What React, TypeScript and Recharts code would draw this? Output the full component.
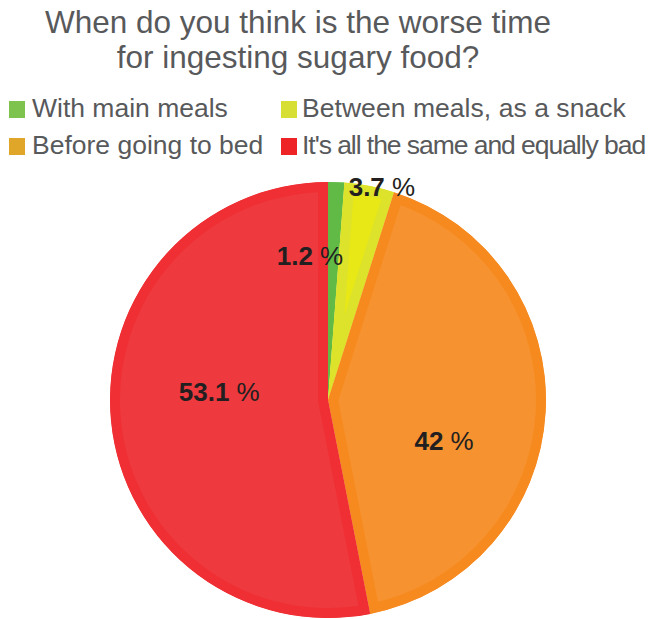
import React from 'react';
import { PieChart, Pie, Cell, Legend, Sector } from 'recharts';

const titleLines = ['When do you think is the worse time', 'for ingesting sugary food?'];
const categories = ['With main meals', 'Between meals, as a snack', 'Before going to bed', "It's all the same and equally bad"];
const values = [1.2, 3.7, 42, 53.1];

const sliceFill = ['#6cbf4a', '#e8e817', '#f6922f', '#ee3a3e'];
const sliceBand = ['#60ba45', '#dde22a', '#f68a1f', '#ef2f33'];
const legendColors = ['#7dc34d', '#d8df34', '#e0a62a', '#ee2326'];
const legendSpacing = [0, 0.05, 0, -1.05];
const labelRadiusFactor = [0.665, 1.01, 0.565, 0.5];
const labelAngleShift = [-9.3, 3.2, 16.3, 9.6];

const data = categories.map((name, i) => ({ name, value: values[i] }));

const FONT = '"Liberation Sans", Arial, sans-serif';
const TEXT = '#58595b';
const RAD = Math.PI / 180;
const LEGEND_HEIGHT = 74;

const renderShape = (props: any) => {
  const { cx, cy, innerRadius, outerRadius, startAngle, endAngle, fill, stroke } = props;
  const id = `clip${Math.round(startAngle * 100)}_${Math.round(endAngle * 100)}`.replace(/-/g, 'm');
  const geom = { cx, cy, innerRadius, outerRadius, startAngle, endAngle };
  return (
    <g>
      <defs>
        <clipPath id={id}>
          <Sector {...geom} />
        </clipPath>
      </defs>
      <Sector {...geom} fill={fill} stroke={stroke} strokeWidth={20} clipPath={`url(#${id})`} />
    </g>
  );
};

const renderLabel = (props: any) => {
  const { cx, cy, midAngle, outerRadius, index, value } = props;
  const r = outerRadius * labelRadiusFactor[index];
  const ang = midAngle - labelAngleShift[index];
  const x = cx + r * Math.cos(-ang * RAD);
  const y = cy + r * Math.sin(-ang * RAD);
  return (
    <text
      x={x}
      y={y}
      textAnchor="middle"
      dominantBaseline="central"
      fill="#231f20"
      fontFamily={FONT}
      fontSize={26}
    >
      <tspan fontWeight="bold">{value}</tspan>
      <tspan> %</tspan>
    </text>
  );
};

const renderLegend = (props: any) => {
  const payload = props.payload || [];
  const items = categories.map((name, i) => {
    const p = payload.find((e: any) => e.value === name);
    return { name: p ? p.value : name, color: legendColors[i] };
  });
  const colLeft = [1, 273];
  const colText = [24, 294];
  return (
    <div style={{ position: 'relative', width: 640, height: LEGEND_HEIGHT, fontFamily: FONT }}>
      {items.map((it, i) => {
        const row = Math.floor(i / 2);
        const col = i % 2;
        return (
          <div key={it.name} style={{ position: 'absolute', top: row * 37, left: 0, height: 37, width: 640 }}>
            <div
              style={{
                position: 'absolute',
                left: colLeft[col],
                top: 11,
                width: 16,
                height: 17,
                background: it.color,
              }}
            />
            <div
              style={{
                position: 'absolute',
                left: colText[col],
                top: 0,
                lineHeight: '37px',
                fontSize: 26.5,
                letterSpacing: legendSpacing[i],
                color: TEXT,
                whiteSpace: 'nowrap',
              }}
            >
              {it.name}
            </div>
          </div>
        );
      })}
    </div>
  );
};

export default function App() {
  return (
    <div style={{ position: 'relative', width: 640, height: 611 }}>
      <div
        style={{
          position: 'absolute',
          top: -3,
          left: 0,
          width: 580,
          textAlign: 'center',
          fontFamily: FONT,
          fontSize: 31.5,
          lineHeight: '35px',
          color: TEXT,
          zIndex: 2,
        }}
      >
        {titleLines.map((l) => (
          <div key={l}>{l}</div>
        ))}
      </div>
      <PieChart width={640} height={611} margin={{ top: 0, right: 0, bottom: 0, left: 0 }}>
        <Pie
          data={data}
          dataKey="value"
          nameKey="name"
          cx={320}
          cy={392 - LEGEND_HEIGHT}
          outerRadius={218}
          startAngle={90}
          endAngle={-270}
          isAnimationActive={false}
          labelLine={false}
          label={renderLabel}
          shape={renderShape}
          stroke="none"
        >
          {data.map((d, i) => (
            <Cell key={d.name} fill={sliceFill[i]} stroke={sliceBand[i]} />
          ))}
        </Pie>
        <Legend
          verticalAlign="top"
          align="left"
          content={renderLegend}
          wrapperStyle={{ top: 82, left: 0, width: 640 }}
        />
      </PieChart>
    </div>
  );
}
